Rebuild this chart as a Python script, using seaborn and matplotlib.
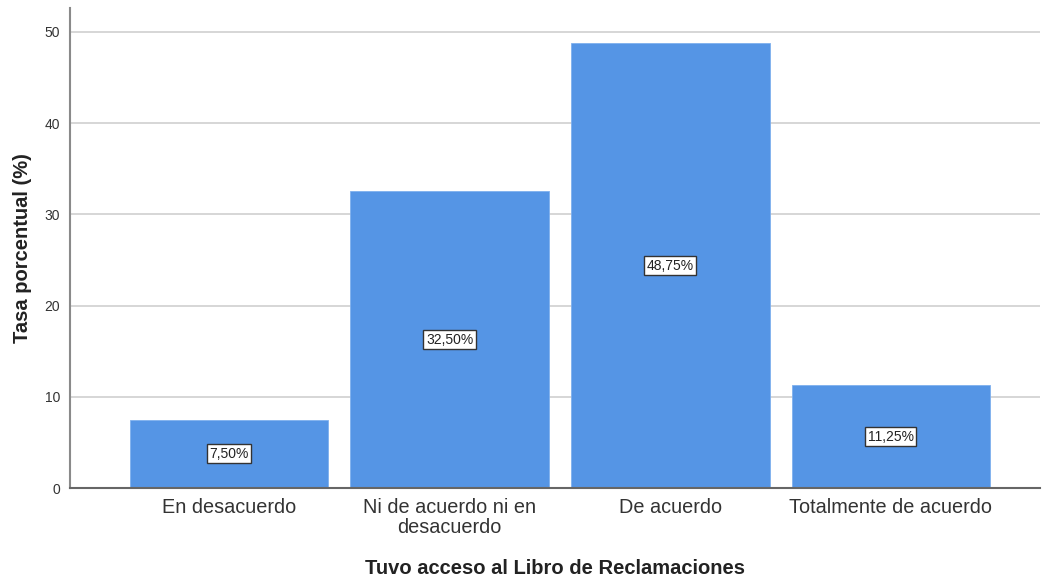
import matplotlib
matplotlib.use("Agg")
import matplotlib.pyplot as plt
import seaborn as sns
import pandas as pd

categories = ["En desacuerdo", "Ni de acuerdo ni en\ndesacuerdo", "De acuerdo", "Totalmente de acuerdo"]
percentages = [7.50, 32.50, 48.75, 11.25]
y_ticks = [0, 10, 20, 30, 40, 50]

sns.set_theme(style="white")
plt.rcParams["font.family"] = ["Liberation Sans", "DejaVu Sans"]

df = pd.DataFrame({"cat": categories, "pct": percentages})

fig = plt.figure(figsize=(10.42, 5.78), dpi=100)
ax = fig.add_axes([0.0672, 0.1557, 0.9308, 0.8303])

ax.set_axisbelow(True)
ax.yaxis.grid(True, color="#d0d0d0", linewidth=1.2)
sns.barplot(data=df, x="cat", y="pct", color="#5595e5", saturation=1,
            width=0.9, ax=ax, edgecolor="#7fb0ee", linewidth=0.6)

for i, v in enumerate(percentages):
    ax.text(i, v / 2, f"{v:.2f}%".replace(".", ","), ha="center", va="center",
            fontsize=10, color="#222222",
            bbox=dict(boxstyle="square,pad=0.18", facecolor="white",
                      edgecolor="#333333", linewidth=1))

ax.set_xlim(-0.72, 3.675)
ax.set_ylim(0, 52.6)
ax.set_yticks(y_ticks)
ax.tick_params(axis="y", labelsize=10, colors="#333333", length=0, pad=7)
ax.tick_params(axis="x", labelsize=14.3, colors="#333333", length=0, pad=7)
for lbl in ax.get_xticklabels():
    lbl.set_linespacing(1.1)
ax.set_xlabel("Tuvo acceso al Libro de Reclamaciones", fontsize=14.5,
              fontweight="bold", color="#222222", labelpad=16)
ax.set_ylabel("Tasa porcentual (%)", fontsize=14.5, fontweight="bold",
              color="#222222")
ax.yaxis.set_label_coords(-0.039, 0.5)

for s in ["top", "right"]:
    ax.spines[s].set_visible(False)
ax.spines["left"].set_color("#8a8a8a")
ax.spines["left"].set_linewidth(1.5)
ax.spines["bottom"].set_color("#666666")
ax.spines["bottom"].set_linewidth(1.5)

fig.savefig("out.png", dpi=100)
